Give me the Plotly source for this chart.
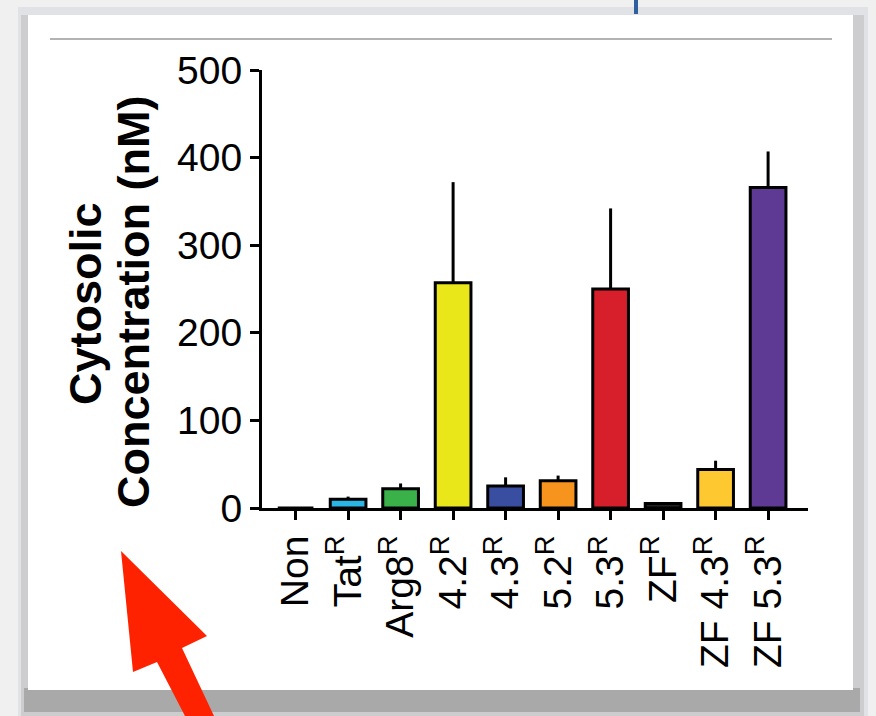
import plotly.graph_objects as go

categories = ["Non", "Tat<sup>R</sup>", "Arg8<sup>R</sup>", "4.2<sup>R</sup>", "4.3<sup>R</sup>",
              "5.2<sup>R</sup>", "5.3<sup>R</sup>", "ZF<sup>R</sup>", "ZF 4.3<sup>R</sup>", "ZF 5.3<sup>R</sup>"]
values = [0, 10, 22, 257, 25, 31, 250, 5, 44, 366]
errors = [0, 3, 6, 115, 10, 6, 92, 1, 10, 41]
colors = ["#ffffff", "#2bb5e6", "#3bb14a", "#e9e61a", "#3a4ea1", "#f7941d",
          "#d61f2a", "#222222", "#fdc830", "#5e3a94"]
y_ticks = [0, 100, 200, 300, 400, 500]
title_lines = ["Cytosolic", "Concentration (nM)"]

W, H = 876, 716
L, R, T, B = 262, 68, 70, 208
PW, PH = W - L - R, H - T - B

def px(x):
    return (x - L) / PW

def py(y):
    return (H - B - y) / PH

def rect(x0, y0, x1, y1, color):
    return dict(type="rect", xref="paper", yref="paper", x0=px(x0), x1=px(x1), y0=py(y1), y1=py(y0),
                fillcolor=color, line=dict(width=0), layer="below")

fig = go.Figure()
fig.add_trace(go.Bar(
    x=list(range(len(categories))), y=values,
    marker=dict(color=colors, line=dict(color="black", width=3)),
    width=0.68,
    error_y=dict(type="data", array=errors, arrayminus=[0] * len(errors),
                 symmetric=False, color="black", thickness=3, width=0),
    hoverinfo="skip",
))

shapes = [
    rect(18, 7, 868, 716, "#e0e2e5"),
    rect(21, 15, 864, 716, "#cdcdcf"),
    rect(24, 688, 860, 712, "#a9a9a9"),
    rect(28, 15, 853, 690, "#ffffff"),
]
# horizontal rule
shapes.append(dict(type="line", xref="paper", yref="paper", x0=px(50), x1=px(832), y0=py(39), y1=py(39),
                   line=dict(color="#9a9a9a", width=1.5)))
# blue mark at top
shapes.append(dict(type="line", xref="paper", yref="paper", x0=px(636), x1=px(636), y0=py(0), y1=py(14),
                   line=dict(color="#2f5f9c", width=4)))
# red arrow
pts = [(121, 551), (207, 636), (182, 648), (214, 716), (185, 716), (157, 662), (133, 672)]
path = "M " + " L ".join(f"{px(a)},{py(b)}" for a, b in pts) + " Z"
shapes.append(dict(type="path", xref="paper", yref="paper", path=path,
                   fillcolor="#ff2200", line=dict(width=0)))

fig.update_layout(
    width=W, height=H,
    margin=dict(l=L, r=R, t=T, b=B, autoexpand=False),
    paper_bgcolor="#f0f0f0", plot_bgcolor="rgba(0,0,0,0)",
    font=dict(family="Liberation Sans, Arial, sans-serif", color="black"),
    showlegend=False,
    shapes=shapes,
    xaxis=dict(range=[-0.64, 9.76], tickmode="array", tickvals=list(range(len(categories))),
               ticktext=categories, tickangle=-90, showline=True, linecolor="black", linewidth=3,
               ticks="outside", ticklen=9, tickwidth=3, tickcolor="black", automargin=False,
               tickfont=dict(size=39), showgrid=False, zeroline=False),
    yaxis=dict(range=[0, 500], tickvals=y_ticks, showline=True, linecolor="black", linewidth=3,
               ticks="outside", ticklen=9, tickwidth=3, tickcolor="black", automargin=False,
               tickfont=dict(size=39), showgrid=False, zeroline=False),
    annotations=[
        dict(text=f"<b>{title_lines[0]}</b>", xref="paper", yref="paper", x=px(85), y=py(304),
             textangle=-90, showarrow=False, font=dict(size=45), xanchor="center", yanchor="middle"),
        dict(text=f"<b>{title_lines[1]}</b>", xref="paper", yref="paper", x=px(133), y=py(302),
             textangle=-90, showarrow=False, font=dict(size=45), xanchor="center", yanchor="middle"),
    ],
)

fig.write_html("out.html", config={"displayModeBar": False},
               post_script="document.body.style.margin='0px';document.body.style.overflow='hidden';")
